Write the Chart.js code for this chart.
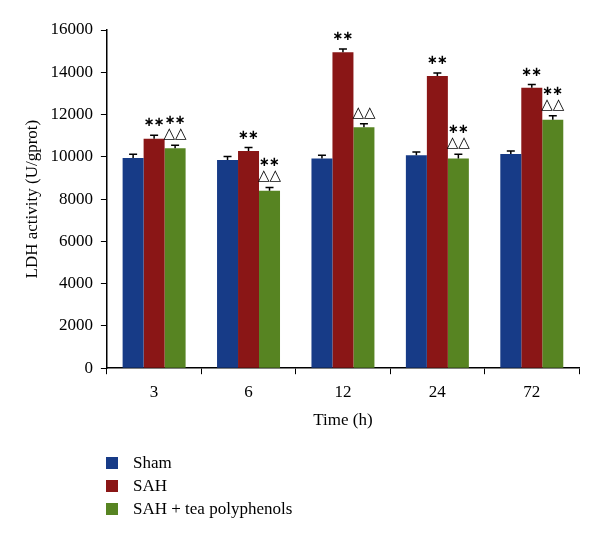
<!DOCTYPE html>
<html>
<head>
<meta charset="utf-8">
<script src="https://cdn.jsdelivr.net/npm/chart.js@4/dist/chart.umd.min.js"></script>
<style>
  body { margin: 0; background: #fff; }
  #wrap { position: relative; width: 600px; height: 543px; }
  #legend { position: absolute; left: 106px; top: 451px; font-family: "Liberation Serif", serif; font-size: 17px; color: #000; }
  #legend div { height: 23px; line-height: 23px; }
  #legend span { display: inline-block; width: 12px; height: 12px; margin-right: 15px; vertical-align: -1px; }
</style>
</head>
<body>
<div id="wrap">
  <canvas id="myChart" width="600" height="543"></canvas>
  <div id="legend"></div>
</div>
<script>
// data
var labels = ['3', '6', '12', '24', '72'];
var sham = [9950, 9850, 9920, 10080, 10130];
var sah = [10850, 10280, 14950, 13820, 13270];
var teaPoly = [10400, 8400, 11400, 9920, 11750];
var shamErr = [170, 160, 160, 150, 150];
var sahErr = [170, 160, 150, 150, 150];
var teaErr = [150, 150, 160, 200, 190];
// significance marks above each bar
var shamMarks = ['', '', '', '', ''];
var sahMarks = ['**', '**', '**', '**', '**'];
var teaMarks = ['** ΔΔ', '** ΔΔ', 'ΔΔ', '** ΔΔ', '** ΔΔ'];
var seriesNames = ['Sham', 'SAH', 'SAH + tea polyphenols'];
var colors = ['#173b87', '#8a1616', '#578422'];

var errs = [shamErr, sahErr, teaErr];
var marks = [shamMarks, sahMarks, teaMarks];

// draw glyph so its ink bottom sits at yBottom, returns ink height
function glyph(ctx, s, x, yBottom) {
  var m = ctx.measureText(s);
  ctx.fillText(s, x, yBottom - m.actualBoundingBoxDescent);
  return m.actualBoundingBoxAscent + m.actualBoundingBoxDescent;
}

var extras = {
  id: 'extras',
  afterDatasetsDraw: function(chart) {
    var ctx = chart.ctx;
    var y = chart.scales.y;
    ctx.save();
    chart.data.datasets.forEach(function(ds, i) {
      var meta = chart.getDatasetMeta(i);
      meta.data.forEach(function(bar, j) {
        var top = y.getPixelForValue(ds.data[j] + errs[i][j]);
        ctx.strokeStyle = '#000';
        ctx.lineWidth = 1.5;
        ctx.beginPath();
        ctx.moveTo(bar.x, bar.y);
        ctx.lineTo(bar.x, top);
        ctx.moveTo(bar.x - 4, top);
        ctx.lineTo(bar.x + 4, top);
        ctx.stroke();
        var m = marks[i][j];
        if (!m) return;
        var parts = m.split(' ');
        var cur = top;
        var prev = null;
        ctx.fillStyle = '#000';
        ctx.textAlign = 'center';
        ctx.textBaseline = 'alphabetic';
        for (var k = parts.length - 1; k >= 0; k--) {
          if (parts[k] === '**') {
            ctx.font = 'bold 13px "DejaVu Sans"';
            var b = cur - (prev ? 4 : 9);
            var h = glyph(ctx, '∗', bar.x - 5, b);
            glyph(ctx, '∗', bar.x + 5, b);
            cur = b - h;
          } else {
            ctx.font = '15px "DejaVu Sans"';
            var b2 = cur - 5;
            cur = b2 - glyph(ctx, '△△', bar.x, b2);
          }
          prev = parts[k];
        }
      });
    });
    ctx.restore();
  }
};

var ctx = document.getElementById('myChart').getContext('2d');
var myChart = new Chart(ctx, {
  type: 'bar',
  data: {
    labels: labels,
    datasets: [
      { label: seriesNames[0], data: sham, backgroundColor: colors[0] },
      { label: seriesNames[1], data: sah, backgroundColor: colors[1] },
      { label: seriesNames[2], data: teaPoly, backgroundColor: colors[2] }
    ]
  },
  options: {
    responsive: false,
    animation: false,
    layout: { padding: { top: 30, right: 21, bottom: 112, left: 22 } },
    datasets: { bar: { categoryPercentage: 0.667, barPercentage: 1 } },
    plugins: { legend: { display: false }, tooltip: { enabled: false } },
    scales: {
      x: {
        grid: { drawOnChartArea: false, color: '#000', tickLength: 6, offset: true },
        border: { color: '#000', width: 1.5 },
        ticks: { color: '#000', font: { family: 'Liberation Serif', size: 17 }, padding: 8 },
        title: { display: true, text: 'Time (h)', color: '#000', font: { family: 'Liberation Serif', size: 17 }, padding: { top: 0, bottom: 0 } }
      },
      y: {
        min: 0, max: 16000,
        grid: { drawOnChartArea: false, color: '#000', tickLength: 6 },
        border: { color: '#000', width: 1.5 },
        ticks: { stepSize: 2000, color: '#000', font: { family: 'Liberation Serif', size: 17 }, padding: 8,
          callback: function(v) { return String(v); } },
        title: { display: true, text: 'LDH activity (U/gprot)', color: '#000', font: { family: 'Liberation Serif', size: 17 }, padding: { top: 0, bottom: 0 } }
      }
    }
  },
  plugins: [extras]
});

var lg = document.getElementById('legend');
seriesNames.forEach(function(n, i) {
  var d = document.createElement('div');
  d.innerHTML = '<span style="background:' + colors[i] + '"></span>' + n;
  lg.appendChild(d);
});
</script>
</body>
</html>
